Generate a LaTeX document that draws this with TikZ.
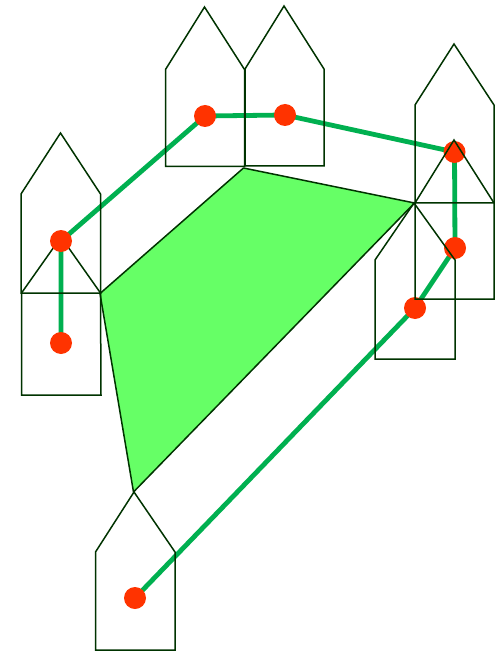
\documentclass[tikz,border=0pt]{standalone}
\pgfdeclarelayer{background}
\pgfsetlayers{background,main}
\begin{document}
\definecolor{outl}{HTML}{003300}
\definecolor{linkg}{HTML}{00B050}
\definecolor{dotr}{HTML}{FF3300}
\definecolor{fillg}{HTML}{66FF66}
\begin{tikzpicture}[x=1pt,y=-1pt,
  house/.style={draw=outl,line width=1.5pt,line join=miter},
  region/.style={draw=outl,fill=fillg,line width=1.5pt,line join=round},
  link/.style={draw=linkg,line width=4.8pt},
  dot/.style={circle,fill=dotr,inner sep=0pt,minimum size=22pt}]
\useasboundingbox (0,0) rectangle (499,652);
% dots
\node[dot] (d1) at (61,343) {};
\node[dot] (d2) at (61,241) {};
\node[dot] (d3) at (205,116) {};
\node[dot] (d4) at (285,115) {};
\node[dot] (d5) at (454.5,152) {};
\node[dot] (d6) at (455,248) {};
\node[dot] (d7) at (415,308) {};
\node[dot] (d8) at (135,598) {};
\begin{pgfonlayer}{background}
% green region
\coordinate (p1) at (243.5,168);
\coordinate (p2) at (414.5,203);
\coordinate (p3) at (133.5,492);
\coordinate (p4) at (100,293.5);
\path[region] (p1) -- (p2) -- (p3) -- (p4) -- cycle;
% left lower house (under the dots)
\draw[house] (61,237) -- (100.5,293) -- (101,395) -- (21.5,395) -- (21.5,293) -- cycle;
% connectors
\path[link] (d1.center) -- (d2.center) -- (d3.center) -- (d4.center) -- (d5.center) -- (d6.center) -- (d7.center) -- (d8.center);
\end{pgfonlayer}
% houses
\draw[house] (60.5,133) -- (100.5,194) -- (100.5,293) -- (21,293) -- (21,194) -- cycle;
\draw[house] (204.5,7) -- (244.5,69.5) -- (244.5,166.5) -- (165.5,166.5) -- (165.5,69.5) -- cycle;
\draw[house] (284,6) -- (324,69) -- (324,166) -- (245,166) -- (245,69) -- cycle;
\draw[house] (454,44) -- (494,105) -- (494,203) -- (415,203) -- (415,105) -- cycle;
\draw[house] (454,140) -- (494,203) -- (494,299) -- (415,299) -- (415,203) -- cycle;
\draw[house] (414,203) -- (455,260) -- (455,359) -- (375,359) -- (375,260) -- cycle;
\draw[house] (134,492) -- (175,552) -- (175,650) -- (95.5,650) -- (95.5,552) -- cycle;
\end{tikzpicture}
\end{document}
